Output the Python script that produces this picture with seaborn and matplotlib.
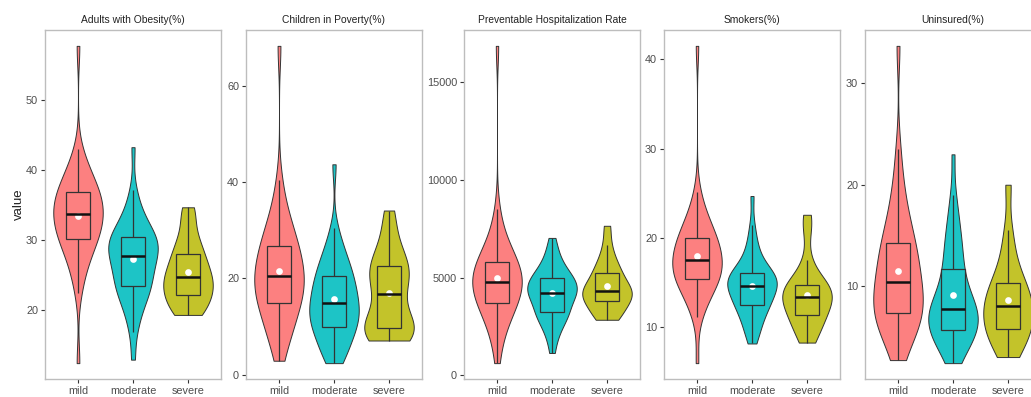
import numpy as np
import pandas as pd
import matplotlib
matplotlib.use("Agg")
import matplotlib.pyplot as plt
import seaborn as sns

# ---- data (quantile-style samples) ----
groups = ["mild", "moderate", "severe"]
colors = ["#FC8080", "#1DC4C6", "#C3C32A"]

obesity_mild = [12.4, 22.4, 24.4, 25.7, 26.7, 27.5, 28.2, 28.8, 29.3, 29.8, 30.2,
                30.55, 30.9, 31.25, 31.6, 31.95, 32.3, 32.65, 33.0, 33.35, 33.7,
                34.0, 34.3, 34.6, 34.9, 35.2, 35.5, 35.8, 36.1, 36.5, 36.9,
                37.3, 37.7, 38.1, 38.6, 39.1, 39.7, 40.4, 41.4, 43.0, 57.8]
obesity_moderate = [12.9, 16.8, 18.4, 19.6, 20.5, 21.3, 21.9, 22.4, 22.8, 23.2, 23.5,
                    23.95, 24.4, 24.85, 25.3, 25.7, 26.1, 26.5, 26.9, 27.35, 27.8,
                    28.1, 28.4, 28.65, 28.9, 29.2, 29.45, 29.7, 29.95, 30.15, 30.4,
                    30.8, 31.2, 31.65, 32.1, 32.7, 33.4, 34.2, 35.3, 37.2, 43.3]
obesity_severe = [19.3, 19.6, 20.2, 21.0, 21.7, 22.2, 22.7, 23.2, 23.7, 24.2, 24.7,
                  25.2, 25.8, 26.5, 27.3, 28.0, 28.8, 29.8, 31.2, 33.5, 34.7]

poverty_mild = [2.9, 5.6, 7.2, 8.4, 9.5, 10.5, 11.4, 12.3, 13.2, 14.05, 14.9,
                15.45, 16.0, 16.55, 17.1, 17.65, 18.2, 18.75, 19.3, 19.85, 20.4,
                21.0, 21.6, 22.2, 22.8, 23.45, 24.1, 24.75, 25.4, 26.1, 26.8,
                27.6, 28.4, 29.3, 30.3, 31.4, 32.7, 34.3, 36.5, 40.5, 68.3]
poverty_moderate = [2.4, 3.3, 4.1, 5.0, 5.9, 6.8, 7.6, 8.3, 8.9, 9.5, 10.0,
                    10.5, 11.0, 11.5, 12.0, 12.45, 12.9, 13.35, 13.8, 14.3, 14.8,
                    15.35, 15.9, 16.45, 17.0, 17.6, 18.2, 18.8, 19.3, 19.9, 20.5,
                    21.2, 21.9, 22.6, 23.4, 24.3, 25.3, 26.5, 28.0, 30.5, 43.7]
poverty_severe = [7.1, 7.5, 8.0, 8.6, 9.1, 9.6, 10.3, 11.2, 12.6, 14.6, 16.7,
                  18.3, 19.6, 20.7, 21.6, 22.5, 23.6, 25.0, 27.0, 30.5, 34.1]

hosp_mild = [630, 1600, 2050, 2400, 2700, 2950, 3150, 3350, 3500, 3600, 3700,
             3830, 3950, 4070, 4190, 4310, 4420, 4530, 4630, 4710, 4780,
             4880, 4980, 5080, 5180, 5280, 5380, 5480, 5590, 5690, 5800,
             5940, 6080, 6240, 6420, 6630, 6880, 7200, 7650, 8500, 16870]
hosp_moderate = [1150, 1750, 2100, 2350, 2550, 2730, 2880, 3010, 3120, 3200, 3270,
                 3400, 3530, 3650, 3770, 3880, 3990, 4080, 4150, 4200, 4240,
                 4320, 4400, 4480, 4560, 4640, 4720, 4790, 4860, 4930, 5000,
                 5100, 5200, 5320, 5450, 5600, 5780, 5980, 6250, 6600, 7040]
hosp_severe = [2850, 2950, 3150, 3400, 3620, 3810, 3930, 4050, 4150, 4240, 4320,
               4450, 4600, 4780, 5000, 5220, 5450, 5700, 6050, 6700, 7660]

smokers_mild = [6.0, 11.2, 12.1, 12.8, 13.4, 13.9, 14.3, 14.65, 14.95, 15.2, 15.4,
                15.6, 15.8, 16.0, 16.2, 16.4, 16.6, 16.85, 17.05, 17.3, 17.5,
                17.75, 18.0, 18.25, 18.5, 18.75, 19.0, 19.25, 19.5, 19.75, 20.0,
                20.3, 20.6, 20.95, 21.3, 21.75, 22.25, 22.9, 23.7, 25.2, 41.5]
smokers_moderate = [8.2, 9.0, 9.6, 10.1, 10.6, 11.0, 11.4, 11.8, 12.1, 12.3, 12.5,
                    12.8, 13.0, 13.2, 13.5, 13.7, 13.9, 14.1, 14.3, 14.5, 14.6,
                    14.8, 15.0, 15.1, 15.3, 15.4, 15.6, 15.7, 15.9, 16.0, 16.1,
                    16.4, 16.7, 17.0, 17.4, 17.9, 18.5, 19.2, 20.1, 21.5, 24.7]
smokers_severe = [8.3, 9.0, 9.8, 10.5, 11.0, 11.4, 11.8, 12.3, 12.7, 13.1, 13.4,
                  13.7, 14.0, 14.3, 14.5, 14.7, 15.2, 15.9, 17.5, 21.0, 22.6]

uninsured_mild = [2.7, 3.7, 4.4, 5.0, 5.5, 5.9, 6.25, 6.55, 6.8, 7.05, 7.3,
                  7.6, 7.9, 8.2, 8.5, 8.8, 9.1, 9.4, 9.75, 10.1, 10.4,
                  10.8, 11.2, 11.6, 12.0, 12.4, 12.75, 13.15, 13.5, 13.9, 14.3,
                  14.8, 15.35, 15.95, 16.6, 17.4, 18.3, 19.5, 21.0, 23.5, 33.7]
uninsured_moderate = [2.4, 3.1, 3.6, 4.0, 4.35, 4.65, 4.95, 5.2, 5.4, 5.55, 5.7,
                      6.0, 6.3, 6.5, 6.7, 6.9, 7.1, 7.3, 7.5, 7.6, 7.7,
                      8.0, 8.3, 8.6, 8.9, 9.3, 9.7, 10.1, 10.6, 11.1, 11.7,
                      12.3, 12.9, 13.5, 14.1, 14.8, 15.5, 16.4, 17.5, 19.0, 23.0]
uninsured_severe = [3.0, 3.6, 4.4, 5.0, 5.5, 5.8, 6.2, 6.7, 7.1, 7.6, 8.0,
                    8.4, 8.8, 9.3, 9.8, 10.3, 11.0, 12.0, 13.5, 15.5, 20.0]

titles = ["Adults with Obesity(%)", "Children in Poverty(%)",
          "Preventable Hospitalization Rate", "Smokers(%)", "Uninsured(%)"]
panel_values = [
    [obesity_mild, obesity_moderate, obesity_severe],
    [poverty_mild, poverty_moderate, poverty_severe],
    [hosp_mild, hosp_moderate, hosp_severe],
    [smokers_mild, smokers_moderate, smokers_severe],
    [uninsured_mild, uninsured_moderate, uninsured_severe],
]
panel_ticks = [
    [20, 30, 40, 50],
    [0, 20, 40, 60],
    [0, 5000, 10000, 15000],
    [10, 20, 30, 40],
    [10, 20, 30],
]

# ---- style ----
sns.set_style("white")
plt.rcParams["font.family"] = ["Liberation Sans", "DejaVu Sans"]

W, H = 1031, 397
fig = plt.figure(figsize=(W / 100, H / 100), dpi=100)
lefts = [45, 246, 464, 664, 865]

for i, title in enumerate(titles):
    ax = fig.add_axes([lefts[i] / W, 18 / H, 176 / W, 349 / H])
    vals = panel_values[i]
    df = pd.DataFrame({
        "group": np.repeat(groups, [len(v) for v in vals]),
        "value": np.concatenate(vals),
    })

    # violin + box + mean point, ggplot style
    sns.violinplot(data=df, x="group", y="value", hue="group", palette=colors,
                   cut=0, inner=None, density_norm="width", width=0.9,
                   bw_adjust=0.8, linewidth=0.7, linecolor="#333333",
                   saturation=1, legend=False, ax=ax)
    sns.boxplot(data=df, x="group", y="value", hue="group", palette=colors,
                width=0.42, showfliers=False, showcaps=False, linewidth=0.9,
                linecolor="#333333", saturation=1, legend=False,
                medianprops={"color": "#111111", "linewidth": 1.8}, ax=ax)
    sns.pointplot(data=df, x="group", y="value", estimator="mean",
                  errorbar=None, color="white", linestyle="none", marker="o",
                  markersize=2.8, ax=ax)

    ax.set_xlim(-0.6, 2.6)
    ax.set_yticks(panel_ticks[i])
    ax.set_title(title, fontsize=7.4, color="#222222", pad=5)
    ax.set_xlabel("")
    ax.set_ylabel("value" if i == 0 else "", fontsize=9.5, color="#222222",
                  labelpad=1)
    ax.tick_params(axis="both", bottom=True, left=True, length=3, width=0.8,
                   color="#333333", labelsize=7.8, labelcolor="#4D4D4D", pad=2)
    for s in ax.spines.values():
        s.set_color("#BDBDBD")
        s.set_linewidth(1.0)

fig.savefig("out.png", dpi=100)
